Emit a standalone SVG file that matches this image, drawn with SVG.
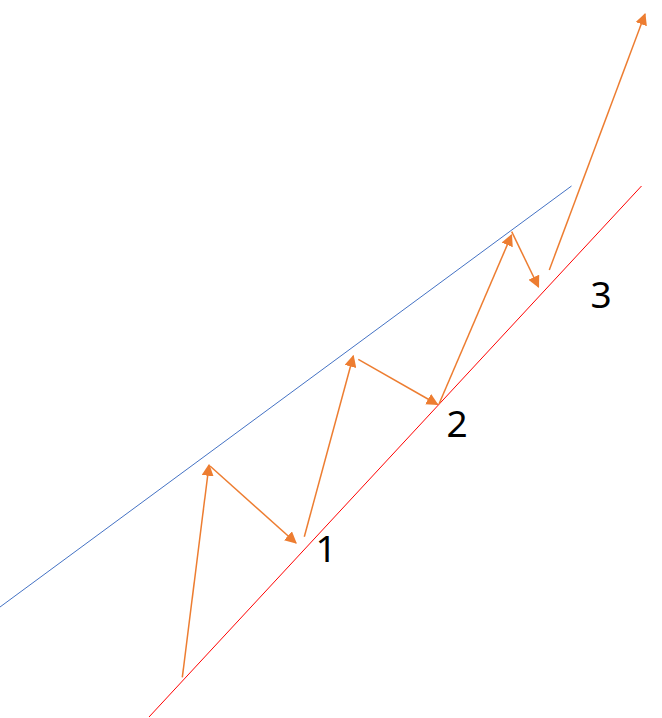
<svg xmlns="http://www.w3.org/2000/svg" width="662" height="718" viewBox="0 0 662 718">
<style>
.arr{stroke:#ED7D31;stroke-width:1.5;fill:none;marker-end:url(#ah)}
.lbl{font-family:"Noto Sans","Open Sans",sans-serif;font-size:37px;fill:#000;text-anchor:middle}
</style>
<defs>
<marker id="ah" viewBox="0 0 10 10" refX="9" refY="5" markerWidth="8" markerHeight="8" markerUnits="strokeWidth" orient="auto">
<path d="M0,0 L10,5 L0,10 Z" fill="#ED7D31"/>
</marker>
</defs>
<rect width="662" height="718" fill="#fff"/>
<g id="lines">
<line id="resistance" x1="0" y1="607" x2="571.5" y2="186" stroke="#4472C4" stroke-width="1"/>
<line id="support" x1="149" y1="717" x2="641.5" y2="186" stroke="#FF0000" stroke-width="1"/>
</g>
<g id="connectors">
<line class="arr" x1="182.3" y1="677.3" x2="209" y2="465"/>
<line class="arr" x1="210" y1="466" x2="296" y2="543"/>
<line class="arr" x1="304.3" y1="536.7" x2="353.3" y2="356"/>
<line class="arr" x1="358.3" y1="359.3" x2="437.5" y2="404.5"/>
<line class="arr" x1="439" y1="404" x2="511.5" y2="235"/>
<line class="arr" x1="511.7" y1="231.7" x2="538.5" y2="287"/>
<line class="arr" x1="549.3" y1="270" x2="645" y2="14"/>
</g>
<g id="label1"><text class="lbl" x="326" y="562">1</text></g>
<g id="label2"><text class="lbl" x="457" y="437">2</text></g>
<g id="label3"><text class="lbl" x="601" y="308">3</text></g>
</svg>
